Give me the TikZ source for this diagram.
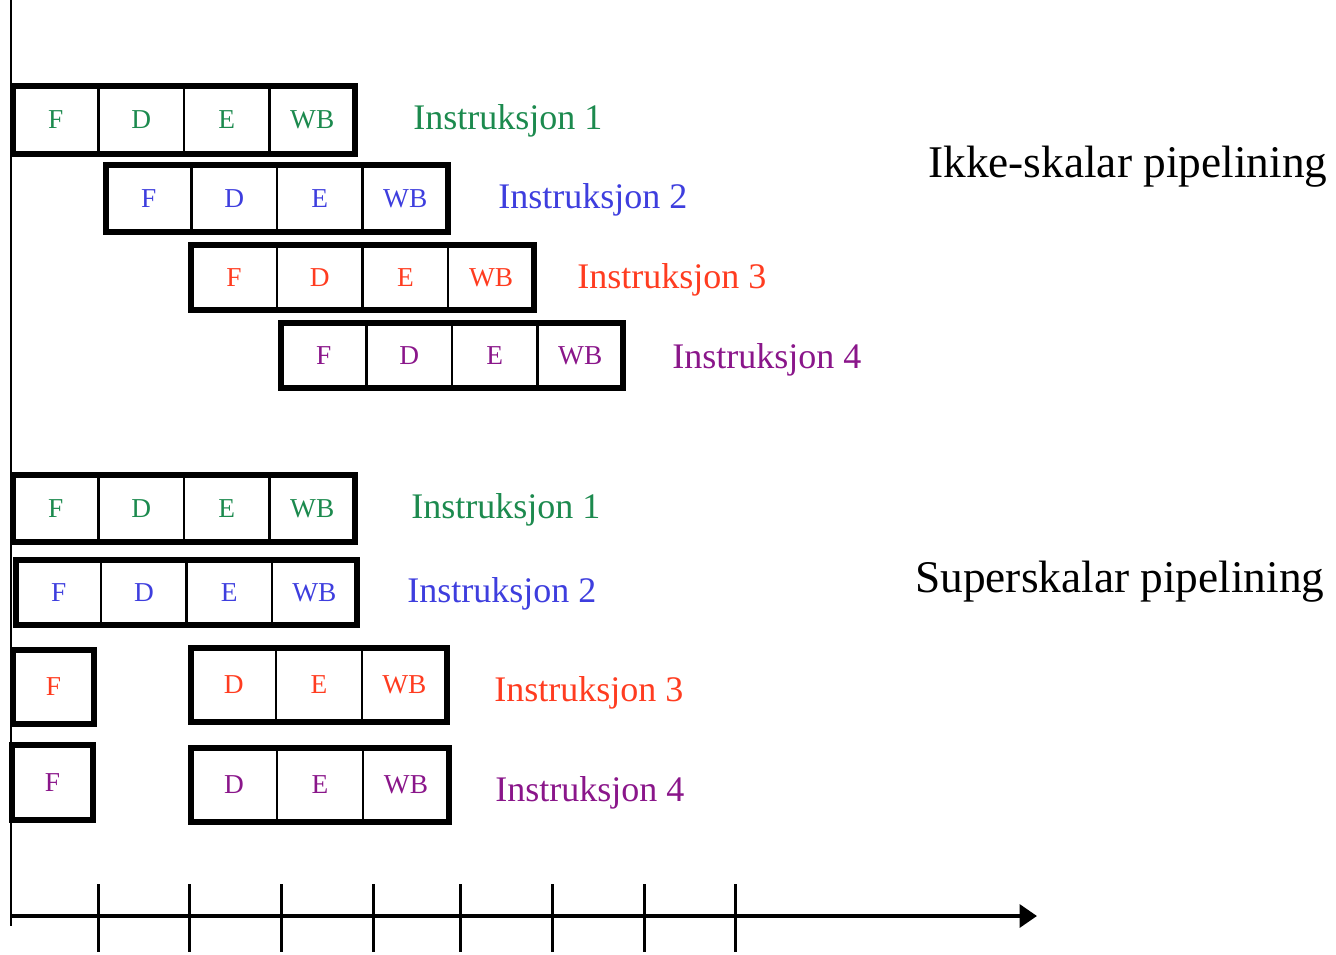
\documentclass[tikz,border=0pt]{standalone}
\usepackage{fontspec}
\setmainfont{Liberation Serif}
\usetikzlibrary{fit,arrows.meta}
\definecolor{insA}{RGB}{28,138,78}
\definecolor{insB}{RGB}{62,62,222}
\definecolor{insC}{RGB}{255,60,32}
\definecolor{insD}{RGB}{138,22,138}
\begin{document}
\begin{tikzpicture}[x=0.75pt,y=-0.75pt,
  cell/.style={draw,line width=1.5pt,inner sep=0pt,outer sep=0pt,
    minimum width=64.1pt,font=\fontsize{20.5}{21}\selectfont},
  frame/.style={draw,line width=4.5pt,inner sep=0pt,outer sep=0pt},
  label/.style={anchor=west,inner sep=0pt,font=\fontsize{27}{30}\selectfont},
  title/.style={anchor=west,inner sep=0pt,font=\fontsize{34}{38}\selectfont},
  axis/.style={line width=3pt},
  tick/.style={line width=2.25pt}]
\useasboundingbox (0,0) rectangle (1336,954);

% time axes
\coordinate (vtop) at (11,0);
\coordinate (vbot) at (11,926);
\coordinate (hstart) at (11,916);
\coordinate (hend) at (1037,916);
\draw[line width=1.6pt] (vtop) -- (vbot);
\draw[axis,-{Triangle[length=13pt,width=17pt]}] (hstart) -- (hend);
\foreach \x [count=\k] in {98,189,281,373,460,552,644,735} {
  \coordinate (t\k a) at (\x,884);
  \coordinate (t\k b) at (\x,952);
  \draw[tick] (t\k a) -- (t\k b);
}

% non-superscalar pipeline: one instruction issued per cycle
\foreach \s [count=\i] in {F,D,E,WB}
  \node[cell,text=insA,minimum height=51pt] (a\i) at ({13+85.5*(\i-0.5)},120) {\s};
\node[frame,fit=(a1)(a4)] (ra) {};
\node[label,text=insA] (la) at (413,121) {Instruksjon 1};

\foreach \s [count=\i] in {F,D,E,WB}
  \node[cell,text=insB,minimum height=50.3pt] (b\i) at ({106+85.5*(\i-0.5)},198.5) {\s};
\node[frame,fit=(b1)(b4)] (rb) {};
\node[label,text=insB] (lb) at (498,200) {Instruksjon 2};

\foreach \s [count=\i] in {F,D,E,WB}
  \node[cell,text=insC,minimum height=48.8pt] (c\i) at ({191+85.75*(\i-0.5)},277.5) {\s};
\node[frame,fit=(c1)(c4)] (rc) {};
\node[label,text=insC] (lc) at (577,280) {Instruksjon 3};

\foreach \s [count=\i] in {F,D,E,WB}
  \node[cell,text=insD,minimum height=48.8pt] (d\i) at ({281+85.5*(\i-0.5)},355.5) {\s};
\node[frame,fit=(d1)(d4)] (rd) {};
\node[label,text=insD] (ld) at (672,360) {Instruksjon 4};

\node[title] (t1) at (928,167) {Ikke-skalar pipelining};

% superscalar pipeline: two instructions issued per cycle
\foreach \s [count=\i] in {F,D,E,WB}
  \node[cell,text=insA,minimum height=50.3pt] (e\i) at ({13+85.5*(\i-0.5)},508.5) {\s};
\node[frame,fit=(e1)(e4)] (re) {};
\node[label,text=insA] (le) at (411,510) {Instruksjon 1};

\foreach \s [count=\i] in {F,D,E,WB}
  \node[cell,text=insB,minimum height=48.8pt] (f\i) at ({16+85.25*(\i-0.5)},592.5) {\s};
\node[frame,fit=(f1)(f4)] (rf) {};
\node[label,text=insB] (lf) at (407,594) {Instruksjon 2};

\node[cell,text=insC,minimum height=55.5pt,minimum width=60.8pt] (g1) at (53.5,687) {F};
\node[frame,fit=(g1)] (rg1) {};
\foreach \s [count=\i from 2] in {D,E,WB}
  \node[cell,text=insC,minimum height=55.5pt] (g\i) at ({191+85.33*(\i-1.5)},685) {\s};
\node[frame,fit=(g2)(g4)] (rg) {};
\node[label,text=insC] (lg) at (494,693) {Instruksjon 3};

\node[cell,text=insD,minimum height=56.3pt,minimum width=60.8pt] (h1) at (52.5,782.5) {F};
\node[frame,fit=(h1)] (rh1) {};
\foreach \s [count=\i from 2] in {D,E,WB}
  \node[cell,text=insD,minimum height=55.5pt] (h\i) at ({191+86*(\i-1.5)},785) {\s};
\node[frame,fit=(h2)(h4)] (rh) {};
\node[label,text=insD] (lh) at (495,793) {Instruksjon 4};

\node[title] (t2) at (915,582) {Superskalar pipelining};
\end{tikzpicture}
\end{document}
